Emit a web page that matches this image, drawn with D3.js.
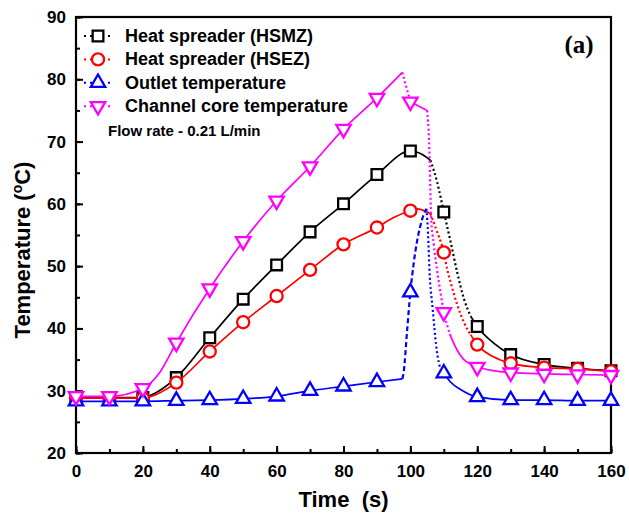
<!DOCTYPE html>
<html>
<head>
<meta charset="utf-8">
<script src="https://cdn.jsdelivr.net/npm/d3@7"></script>
<style>
  body { margin: 0; background: #fff; }
  text { font-family: "Liberation Sans", Arial, sans-serif; font-weight: bold; }
</style>
</head>
<body>
<div id="chart"></div>
<script>
let width = 629;
let height = 523;
let margin = ({top: 17, right: 17, bottom: 70, left: 76});

// marker values, one every 10 s
let markTime = [0, 10, 20, 30, 40, 50, 60, 70, 80, 90, 100, 110, 120, 130, 140, 150, 160];
let hsmzMarks = [28.9, 28.9, 28.9, 32.1, 38.5, 44.7, 50.2, 55.5, 60.0, 64.7, 68.5, 58.7, 40.3, 35.8, 34.2, 33.6, 33.2];
let hsezMarks = [28.8, 28.8, 28.8, 31.3, 36.3, 41.0, 45.2, 49.4, 53.5, 56.2, 58.9, 52.2, 37.4, 34.4, 33.7, 33.5, 33.1];
let outletMarks = [28.3, 28.3, 28.3, 28.4, 28.5, 28.7, 29.1, 30.0, 30.7, 31.4, 45.8, 32.8, 29.0, 28.5, 28.5, 28.4, 28.4];
let coreMarks = [29.1, 29.1, 30.4, 37.7, 46.4, 54.0, 60.5, 66.0, 72.0, 77.0, 76.4, 42.6, 33.8, 32.9, 32.7, 32.6, 32.5];

// the recorded curves (denser than the markers)
let hsmzT = [0, 10, 20, 22, 30, 40, 50, 60, 70, 80, 90, 100, 103, 106, 108, 110, 112, 114, 116, 118, 120, 125, 130, 140, 150, 160];
let hsmzV = [28.9, 28.9, 28.9, 29.2, 32.1, 38.5, 44.7, 50.2, 55.5, 60.0, 64.7, 68.5, 68.1, 67.0, 63.5, 58.7, 54.0, 49.0, 44.8, 42.0, 40.3, 37.6, 35.8, 34.2, 33.6, 33.2];
let hsezT = [0, 10, 20, 22, 30, 40, 50, 60, 70, 80, 90, 95, 100, 102, 106, 108, 110, 111, 112, 114, 116, 118, 120, 125, 130, 140, 150, 160];
let hsezV = [28.8, 28.8, 28.8, 29.0, 31.3, 36.3, 41.0, 45.2, 49.4, 53.5, 56.2, 57.8, 58.9, 59.2, 58.4, 55.5, 52.2, 49.5, 47.5, 43.8, 41.0, 39.0, 37.4, 35.4, 34.4, 33.7, 33.5, 33.1];
let outletT = [0, 10, 20, 30, 40, 50, 60, 70, 80, 90, 97.6, 98, 99, 100, 101, 102, 103, 104, 104.8, 105.3, 105.7, 106.7, 107.7, 108.7, 110, 112, 115, 120, 130, 140, 150, 160];
let outletV = [28.3, 28.3, 28.3, 28.4, 28.5, 28.7, 29.1, 30.0, 30.7, 31.4, 31.9, 33.0, 39.5, 45.8, 50.5, 54.0, 56.5, 58.3, 59.2, 55.0, 49.5, 43.0, 37.3, 34.1, 32.8, 31.4, 30.2, 29.0, 28.5, 28.5, 28.4, 28.4];
let coreT = [0, 10, 20, 25, 30, 40, 50, 60, 70, 80, 90, 97.6, 100, 105, 105.6, 106.2, 107, 108, 109, 110, 111, 112, 114, 116, 118, 120, 130, 140, 150, 160];
let coreV = [29.1, 29.1, 30.4, 32.9, 37.7, 46.4, 54.0, 60.5, 66.0, 72.0, 77.0, 81.1, 76.4, 75.0, 70.0, 58.0, 53.5, 49.3, 45.8, 42.6, 40.5, 38.8, 36.5, 35.0, 34.3, 33.8, 32.9, 32.7, 32.6, 32.5];

// time windows drawn with broken lines
let hsmzDotted = [[106, 118]];
let hsezDotted = [[106, 118]];
let outletDashed = [[97.6, 104.8]];
let outletDotted = [[104.8, 110]];
let coreDotted = [[97.6, 100], [105, 112]];

let legendNames = ["Heat spreader (HSMZ)", "Heat spreader (HSEZ)", "Outlet temperature", "Channel core temperature"];

let series = [
    {name: legendNames[0], color: "#000000", symbol: "square", t: hsmzT, v: hsmzV, marks: hsmzMarks,
     broken: hsmzDotted.map(r => [r[0], r[1], "dot"])},
    {name: legendNames[1], color: "#ff0000", symbol: "circle", t: hsezT, v: hsezV, marks: hsezMarks,
     broken: hsezDotted.map(r => [r[0], r[1], "dot"])},
    {name: legendNames[2], color: "#0000ff", symbol: "up", t: outletT, v: outletV, marks: outletMarks,
     broken: outletDashed.map(r => [r[0], r[1], "dash"]).concat(outletDotted.map(r => [r[0], r[1], "dot"]))},
    {name: legendNames[3], color: "#ff00ff", symbol: "down", t: coreT, v: coreV, marks: coreMarks,
     broken: coreDotted.map(r => [r[0], r[1], "dot"])}
];

let dashes = {solid: null, dot: "2,2.6", dash: "5,3"};

let svg = d3.select("#chart")
    .append("svg")
    .attr("width", width)
    .attr("height", height);

let xScale = d3.scaleLinear().domain([0, 160]).range([margin.left, width - margin.right - 1]);
let yScale = d3.scaleLinear().domain([20, 90]).range([height - margin.bottom, margin.top]);

// minor ticks first, then major ticks with labels (all pointing inward)
svg.append("g")
    .attr("transform", "translate(0," + yScale(20) + ")")
    .call(d3.axisBottom(xScale).tickValues(markTime).tickSize(-4).tickFormat(""));
svg.append("g")
    .attr("class", "x axis")
    .attr("transform", "translate(0," + yScale(20) + ")")
    .call(d3.axisBottom(xScale).tickValues([0, 20, 40, 60, 80, 100, 120, 140, 160]).tickSize(-7).tickPadding(12));

svg.append("g")
    .attr("transform", "translate(" + xScale(0) + ",0)")
    .call(d3.axisLeft(yScale).ticks(14).tickSize(-4).tickFormat(""));
svg.append("g")
    .attr("class", "y axis")
    .attr("transform", "translate(" + xScale(0) + ",0)")
    .call(d3.axisLeft(yScale).ticks(7).tickSize(-7).tickPadding(10));

svg.selectAll(".axis text")
    .attr("font-size", 17)
    .attr("font-family", "Liberation Sans, Arial, sans-serif")
    .attr("font-weight", "bold")
    .attr("fill", "#000");
svg.selectAll(".tick line").attr("stroke", "#000").attr("stroke-width", 2);
svg.selectAll(".domain").remove();

// frame
svg.append("rect")
    .attr("x", xScale(0))
    .attr("y", yScale(90))
    .attr("width", xScale(160) - xScale(0))
    .attr("height", yScale(20) - yScale(90))
    .attr("fill", "none")
    .attr("stroke", "#000")
    .attr("stroke-width", 2.2);

// split a curve into runs of the same line style
function segments(t, v, broken) {
    let out = [];
    let cur = null;
    for (let i = 0; i < t.length - 1; i++) {
        let mid = (t[i] + t[i + 1]) / 2;
        let r = broken.find(b => mid > b[0] && mid < b[1]);
        let style = r ? r[2] : "solid";
        if (!cur || cur.style !== style) {
            cur = {style: style, pts: [[t[i], v[i]]]};
            out.push(cur);
        }
        cur.pts.push([t[i + 1], v[i + 1]]);
    }
    return out;
}

let line = d3.line()
    .x(d => xScale(d[0]))
    .y(d => yScale(d[1]))
    .curve(d3.curveMonotoneX);

function symbolPath(kind) {
    if (kind === "square") return d3.symbol().type(d3.symbolSquare).size(115)();
    if (kind === "circle") return d3.symbol().type(d3.symbolCircle).size(115)();
    return d3.symbol().type(d3.symbolTriangle).size(90)();
}

series.forEach(function(s) {
    let g = svg.append("g");
    segments(s.t, s.v, s.broken).forEach(function(seg) {
        g.append("path")
            .attr("d", line(seg.pts))
            .attr("fill", "none")
            .attr("stroke", s.color)
            .attr("stroke-width", seg.style === "solid" ? 1.7 : 2.2)
            .attr("stroke-dasharray", dashes[seg.style]);
    });
    g.selectAll(".mark")
        .data(s.marks)
        .enter()
        .append("path")
        .attr("class", "mark")
        .attr("d", symbolPath(s.symbol))
        .attr("transform", (d, i) => "translate(" + xScale(markTime[i]) + "," + yScale(d) + ")" + (s.symbol === "down" ? " rotate(180)" : ""))
        .attr("fill", "#fff")
        .attr("stroke", s.color)
        .attr("stroke-width", 2.3);
});

// legend
let legend = svg.append("g");
series.forEach(function(s, i) {
    let y = 36 + i * 23.4;
    legend.append("line")
        .attr("x1", 84).attr("x2", 111)
        .attr("y1", y).attr("y2", y)
        .attr("stroke", s.color)
        .attr("stroke-width", 2)
        .attr("stroke-dasharray", "2,4");
    legend.append("path")
        .attr("d", symbolPath(s.symbol))
        .attr("transform", "translate(98," + y + ")" + (s.symbol === "down" ? " rotate(180)" : ""))
        .attr("fill", "#fff")
        .attr("stroke", s.color)
        .attr("stroke-width", 2.3);
    legend.append("text")
        .attr("x", 125)
        .attr("y", y + 6)
        .attr("font-size", 18)
        .text(s.name);
});

svg.append("text")
    .attr("x", 108)
    .attr("y", 136)
    .attr("font-size", 15)
    .text("Flow rate - 0.21 L/min");

svg.append("text")
    .attr("x", 579)
    .attr("y", 53)
    .attr("text-anchor", "middle")
    .attr("font-size", 25)
    .style("font-family", "Liberation Serif, Times New Roman, serif")
    .text("(a)");

// axis titles
svg.append("text")
    .attr("x", (xScale(0) + xScale(160)) / 2)
    .attr("y", 507)
    .attr("text-anchor", "middle")
    .attr("font-size", 22)
    .attr("xml:space", "preserve")
    .text("Time  (s)");

let yTitle = svg.append("text")
    .attr("transform", "translate(30,250) rotate(-90)")
    .attr("text-anchor", "middle")
    .attr("font-size", 22);
yTitle.append("tspan").text("Temperature (");
yTitle.append("tspan").attr("font-size", 14).attr("dy", -8).text("o");
yTitle.append("tspan").attr("dy", 8).text("C)");
</script>
</body>
</html>
